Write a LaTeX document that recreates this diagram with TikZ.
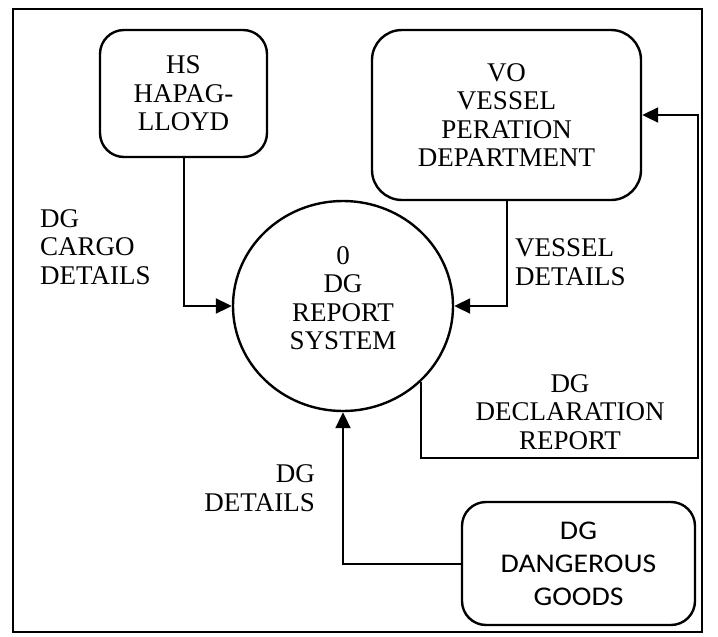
\documentclass[tikz,border=0pt]{standalone}
\usepackage{fontspec}
\setmainfont{Liberation Serif}
\newfontfamily\dgsans{Carlito}[FakeStretch=1.1]
\usetikzlibrary{arrows.meta,shapes.geometric}
\tikzset{
  ent/.style={draw,line width=2.4pt,rounded corners=24pt,align=center,inner sep=0pt},
  proc/.style={draw,line width=2.4pt,ellipse,minimum width=220pt,minimum height=210pt,inner sep=0pt},
  arr/.style={line width=2pt,-{Triangle[length=16pt,width=15pt]}},
  lbl/.style={inner sep=0pt},
  txt/.style={font=\fontsize{27}{28.5}\selectfont}
}
\begin{document}
\begin{tikzpicture}[x=1pt,y=-1pt,txt]
\useasboundingbox (0,0) rectangle (718,637);
\draw[line width=2.4pt] (13,9) rectangle (702,632);
\node[ent,minimum width=167pt,minimum height=127pt] (hs) at (183.5,93.5) {HS\\HAPAG-\\LLOYD};
\node[ent,rounded corners=30pt,minimum width=269pt,minimum height=170pt] (vo) at (506.5,115) {VO\\VESSEL\\PERATION\\DEPARTMENT};
\node[proc] (p) at (343,306) {};
\node[lbl,align=center] (ptxt) at (343,298) {0\\DG\\REPORT\\SYSTEM};
\node[ent,minimum width=233pt,minimum height=123pt,font=\dgsans\fontsize{27}{33}\selectfont] (dg) at (578.5,563.5) {DG\\DANGEROUS\\GOODS};
\coordinate (c1) at (698,458);
\draw[arr] (hs.south) |- (p.west);
\draw[arr] (vo.south) |- (p.east);
\draw[arr] (p.-44) |- (c1) |- (vo.east);
\draw[arr] (dg.west) -| (p.south);
\node[lbl,align=left,anchor=west] (l1) at (40,247) {DG\\CARGO\\DETAILS};
\node[lbl,align=left,anchor=west] (l2) at (515,262) {VESSEL\\DETAILS};
\node[lbl,align=center] (l3) at (570,412) {DG\\DECLARATION\\REPORT};
\node[lbl,align=right,anchor=east] (l4) at (315,488) {DG\\DETAILS};
\end{tikzpicture}
\end{document}
